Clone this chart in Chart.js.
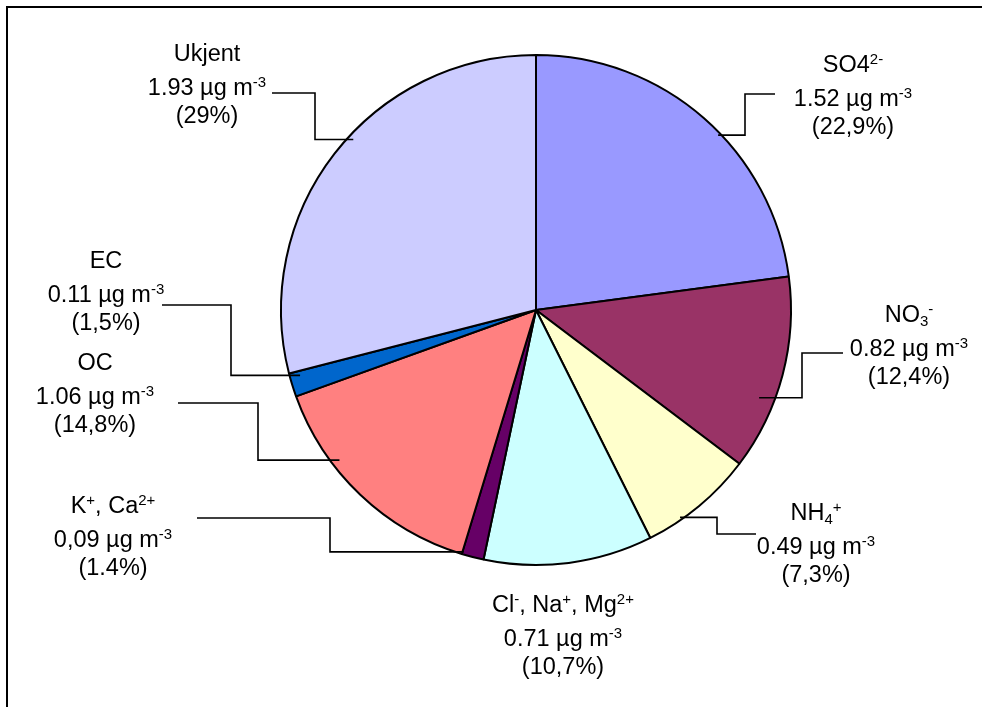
<!DOCTYPE html>
<html>
<head>
<meta charset="utf-8">
<script src="https://cdn.jsdelivr.net/npm/chart.js@4/dist/chart.umd.min.js"></script>
<style>
  html, body { margin: 0; padding: 0; background: #fff; }
  #wrap { position: relative; width: 982px; height: 707px; overflow: hidden; }
  #pie { position: absolute; left: 0; top: 0; }
  #frame { position: absolute; left: 6px; top: 6px; right: -4px; bottom: -4px;
           border-top: 2px solid #000; border-left: 2px solid #000; }
</style>
</head>
<body>
<div id="wrap">
  <canvas id="pie" width="982" height="707"></canvas>
  <div id="frame"></div>
</div>
<script>
// components, clockwise from 12 o'clock
const names = [
  [["SO4"], ["2-", "sup"]],
  [["NO"], ["3", "sub"], ["-", "sup"]],
  [["NH"], ["4", "sub"], ["+", "sup"]],
  [["Cl"], ["-", "sup"], [", Na"], ["+", "sup"], [", Mg"], ["2+", "sup"]],
  [["K"], ["+", "sup"], [", Ca"], ["2+", "sup"]],
  [["OC"]],
  [["EC"]],
  [["Ukjent"]]
];
const values = ["1.52", "0.82", "0.49", "0.71", "0,09", "1.06", "0.11", "1.93"];
const shares = [22.9, 12.4, 7.3, 10.7, 1.4, 14.8, 1.5, 29];
const shareText = ["22,9%", "12,4%", "7,3%", "10,7%", "1.4%", "14,8%", "1,5%", "29%"];
const colors = ["#9999FF", "#993366", "#FFFFCC", "#CCFFFF", "#660066", "#FF8080", "#0066CC", "#CCCCFF"];

// label placement: text centre x, first baseline y, leader (start x/y, elbow x, anchor in slice)
const labelPos = [
  { cx: 853, y: 72,  lead: { x0: 775, y0: 94,  ex: 745, frac: 0.56, rf: 0.99 } },
  { cx: 909, y: 322, lead: { x0: 843, y0: 353, ex: 802, frac: 0.65, rf: 0.94 } },
  { cx: 816, y: 520, lead: { x0: 756, y0: 534, ex: 717, frac: 0.69, rf: 0.99 } },
  { cx: 563, y: 612, lead: null },
  { cx: 113, y: 513, lead: { x0: 197, y0: 518, ex: 330, frac: 0.95, rf: 0.99 } },
  { cx: 95,  y: 370, lead: { x0: 178, y0: 403, ex: 258, frac: 0.67, rf: 0.97 } },
  { cx: 106, y: 268, lead: { x0: 162, y0: 305, ex: 231, frac: 0.8,  rf: 0.96 } },
  { cx: 207, y: 61,  lead: { x0: 272, y0: 93,  ex: 315, frac: 0.55, rf: 0.98 } }
];

const FONT = '"Liberation Sans", Arial, sans-serif';
const MAIN = 23.5, SMALL = 15;

function segFont(s) { return (s ? SMALL : MAIN) + "px " + FONT; }

function drawRich(ctx, segs, cx, y) {
  let w = 0;
  segs.forEach(function (s) { ctx.font = segFont(s[1]); w += ctx.measureText(s[0]).width; });
  let x = cx - w / 2;
  segs.forEach(function (s) {
    ctx.font = segFont(s[1]);
    const dy = s[1] === "sup" ? -8 : s[1] === "sub" ? 4 : 0;
    ctx.fillText(s[0], x, y + dy);
    x += ctx.measureText(s[0]).width;
  });
}

const labelPlugin = {
  id: "leaderLabels",
  afterDraw: function (chart) {
    const ctx = chart.ctx;
    const arcs = chart.getDatasetMeta(0).data;
    ctx.save();
    ctx.fillStyle = "#000";
    ctx.textBaseline = "alphabetic";
    ctx.textAlign = "left";
    arcs.forEach(function (arc, i) {
      const p = labelPos[i];
      drawRich(ctx, names[i], p.cx, p.y);
      drawRich(ctx, [[values[i] + " \u00b5g m"], ["-3", "sup"]], p.cx, p.y + 34);
      drawRich(ctx, [["(" + shareText[i] + ")"]], p.cx, p.y + 62);
      if (p.lead) {
        const a = arc.getProps(["x", "y", "startAngle", "endAngle", "outerRadius"], true);
        const ang = a.startAngle + p.lead.frac * (a.endAngle - a.startAngle);
        const px = a.x + Math.cos(ang) * a.outerRadius * p.lead.rf;
        const py = a.y + Math.sin(ang) * a.outerRadius * p.lead.rf;
        ctx.beginPath();
        ctx.lineWidth = 1.6;
        ctx.strokeStyle = "#000";
        ctx.moveTo(p.lead.x0, p.lead.y0);
        ctx.lineTo(p.lead.ex, p.lead.y0);
        ctx.lineTo(p.lead.ex, py);
        ctx.lineTo(px, py);
        ctx.stroke();
      }
    });
    ctx.restore();
  }
};

new Chart(document.getElementById("pie").getContext("2d"), {
  type: "pie",
  data: {
    labels: names.map(function (n) { return n.map(function (s) { return s[0]; }).join(""); }),
    datasets: [{
      data: shares,
      backgroundColor: colors,
      borderColor: "#000",
      borderWidth: 2
    }]
  },
  options: {
    responsive: false,
    animation: false,
    layout: { padding: { left: 280, right: 190, top: 54, bottom: 141 } },
    plugins: {
      legend: { display: false },
      tooltip: { enabled: false }
    }
  },
  plugins: [labelPlugin]
});
</script>
</body>
</html>
